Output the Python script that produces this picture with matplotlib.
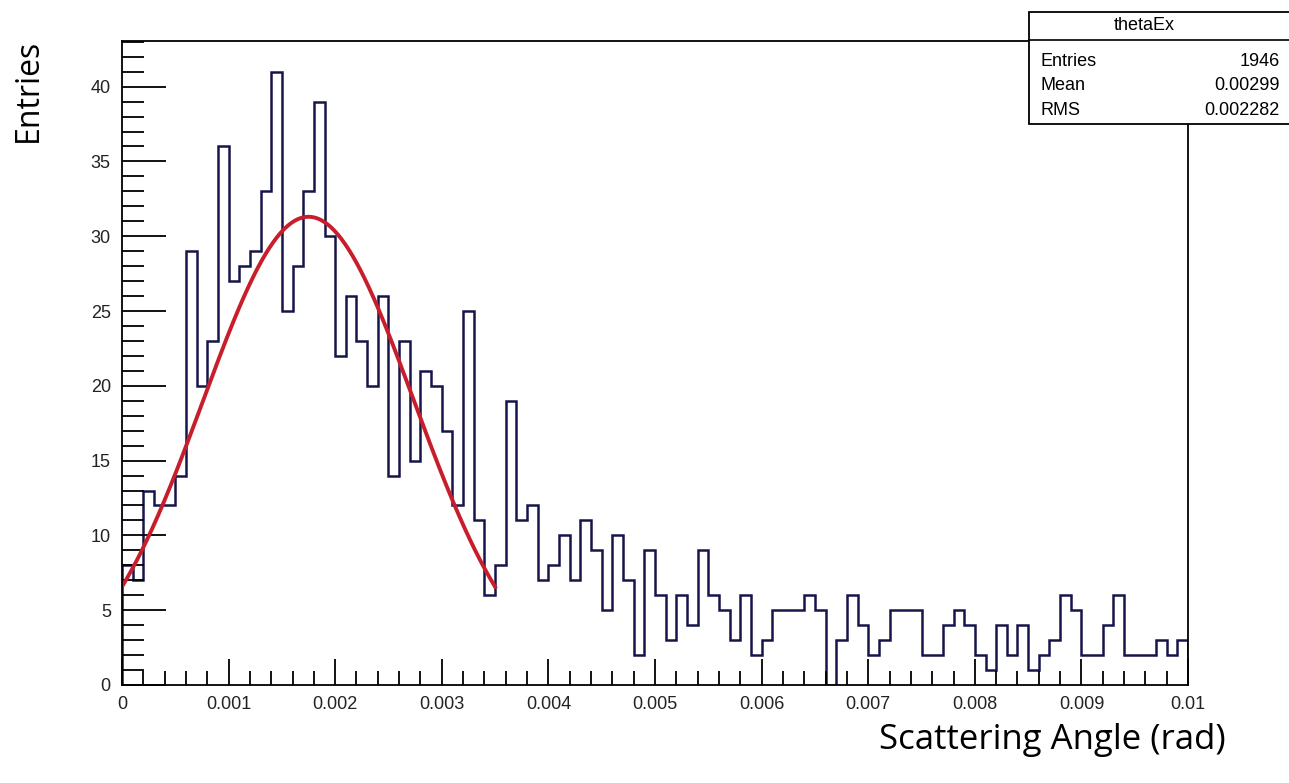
import numpy as np
import matplotlib
matplotlib.use('Agg')
import matplotlib.pyplot as plt
from matplotlib.patches import Rectangle
from matplotlib.ticker import MultipleLocator

# histogram thetaEx: 100 bins from 0 to 0.01 rad
x_min = 0.0
x_max = 0.01
counts = [8, 7, 13, 12, 12, 14, 29, 20, 23, 36,
          27, 28, 29, 33, 41, 25, 28, 33, 39, 30,
          22, 26, 23, 20, 26, 14, 23, 15, 21, 20,
          17, 12, 25, 11, 6, 8, 19, 11, 12, 7,
          8, 10, 7, 11, 9, 5, 10, 7, 2, 9,
          6, 3, 6, 4, 9, 6, 5, 3, 6, 2,
          3, 5, 5, 5, 6, 5, 0, 3, 6, 4,
          2, 3, 5, 5, 5, 2, 2, 4, 5, 4,
          2, 1, 4, 2, 4, 1, 2, 3, 6, 5,
          2, 2, 4, 6, 2, 2, 2, 3, 2, 3]

# gaussian fit
fit_const = 31.3
fit_mean = 0.00175
fit_sigma = 0.00099
fit_range = (0.0, 0.0035)

x_ticks = [0, 0.001, 0.002, 0.003, 0.004, 0.005, 0.006, 0.007, 0.008, 0.009, 0.01]
x_tick_labels = ['0', '0.001', '0.002', '0.003', '0.004', '0.005',
                 '0.006', '0.007', '0.008', '0.009', '0.01']
y_ticks = [0, 5, 10, 15, 20, 25, 30, 35, 40]

stats_title = 'thetaEx'
stats_names = ['Entries', 'Mean', 'RMS']
stats_values = ['1946', '0.00299', '0.002282']


def main():
    plt.rcParams['font.family'] = ['Liberation Sans', 'DejaVu Sans']

    fig = plt.figure(figsize=(12.89, 7.83), dpi=100)
    ax = fig.add_axes([0.0946, 0.1252, 0.8271, 0.8224])

    edges = np.linspace(x_min, x_max, len(counts) + 1)
    ax.stairs(counts, edges, baseline=0, color='#15154a', lw=1.8)

    xf = np.linspace(fit_range[0], fit_range[1], 300)
    yf = fit_const * np.exp(-0.5 * ((xf - fit_mean) / fit_sigma) ** 2)
    ax.plot(xf, yf, color='#c81e2c', lw=2.8)

    ax.set_xlim(x_min, x_max)
    ax.set_ylim(0, 43.05)

    ax.set_xticks(x_ticks)
    ax.set_xticklabels(x_tick_labels)
    ax.set_yticks(y_ticks)
    ax.xaxis.set_minor_locator(MultipleLocator(0.0002))
    ax.yaxis.set_minor_locator(MultipleLocator(1))

    ax.tick_params(which='major', direction='in', colors='black', labelcolor='#222222',
                   labelsize=13)
    ax.tick_params(axis='y', which='major', length=32, width=1.3, pad=8)
    ax.tick_params(axis='y', which='minor', direction='in', length=16, width=1.3)
    ax.tick_params(axis='x', which='major', length=19, width=1.3, pad=8)
    ax.tick_params(axis='x', which='minor', direction='in', length=10, width=1.3)
    for sp in ax.spines.values():
        sp.set_linewidth(1.3)

    # axis titles sit outside, in a different font
    fig.text(0.0217, 0.8845, 'Entries', rotation=90, ha='center', va='center',
             fontsize=23, family=['Open Sans', 'DejaVu Sans'])
    fig.text(0.816, 0.055, 'Scattering Angle (rad)', ha='center', va='center',
             fontsize=25, family=['Open Sans', 'DejaVu Sans'])

    # stats box
    fig.patches.append(Rectangle((0.798, 0.8416), 0.25, 0.1431, transform=fig.transFigure,
                                 facecolor='white', edgecolor='black', lw=1.3, zorder=5))
    fig.lines.append(plt.Line2D([0.798, 1.0], [0.949, 0.949], transform=fig.transFigure,
                                color='black', lw=1.2, zorder=6))
    fig.text(0.8875, 0.9668, stats_title, ha='center', va='center', fontsize=13, zorder=7)
    rows_y = [0.922, 0.8905, 0.8595]
    for name, val, yy in zip(stats_names, stats_values, rows_y):
        fig.text(0.807, yy, name, ha='left', va='center', fontsize=13, zorder=7)
        fig.text(0.993, yy, val, ha='right', va='center', fontsize=13, zorder=7)

    fig.savefig('out.png', dpi=100)


if __name__ == "__main__":
    main()
